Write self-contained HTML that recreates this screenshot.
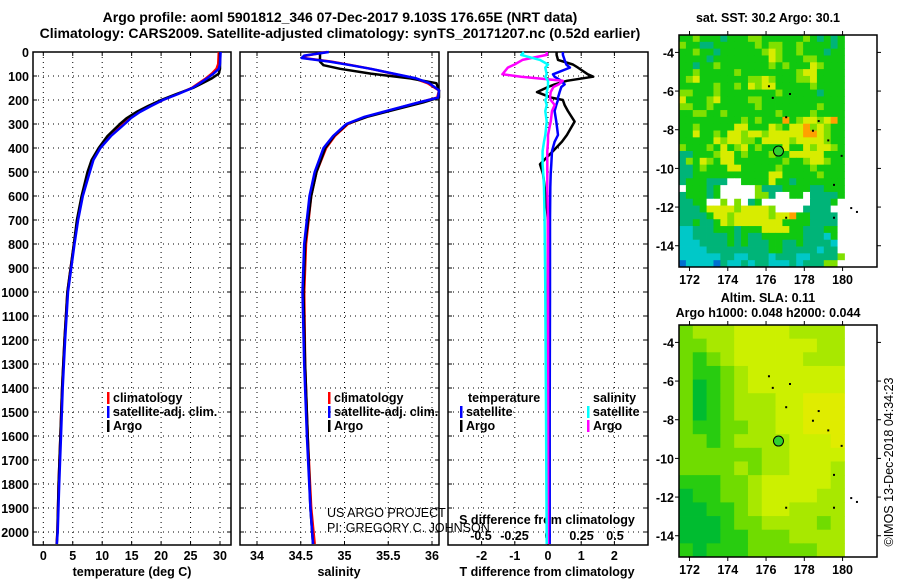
<!DOCTYPE html>
<html><head><meta charset="utf-8">
<style>
html,body{margin:0;padding:0;background:#fff;}
svg{display:block;font-family:"Liberation Sans",Arial,sans-serif;}
.b{font-weight:bold;font-size:12.5px;}
.t{font-weight:bold;font-size:14px;}
</style></head>
<body>
<svg id="fig" width="900" height="580" viewBox="0 0 900 580" xmlns="http://www.w3.org/2000/svg">
<text class="t" x="340" y="22" text-anchor="middle">Argo profile: aoml 5901812_346 07-Dec-2017 9.103S 176.65E (NRT data)</text>
<text class="t" x="340" y="38" text-anchor="middle">Climatology: CARS2009. Satellite-adjusted climatology: synTS_20171207.nc (0.52d earlier)</text>
<g id="p1"></g>
<g id="p2"></g>
<g id="p3"></g>
<g id="m1"></g>
<g id="m2"></g>
<text class="b" x="768" y="22" text-anchor="middle">sat. SST: 30.2 Argo: 30.1</text>
<text class="b" x="768" y="302" text-anchor="middle">Altim. SLA: 0.11</text>
<text class="b" x="768" y="317" text-anchor="middle">Argo h1000: 0.048 h2000: 0.044</text>
<text x="893" y="462" font-size="12.5" transform="rotate(-90 893 462)" text-anchor="middle">©IMOS 13-Dec-2018 04:34:23</text>
</svg>
<script>
// ---- data ----
const depthTicks=[0,100,200,300,400,500,600,700,800,900,1000,1100,1200,1300,1400,1500,1600,1700,1800,1900,2000];
const tTicks=[0,5,10,15,20,25,30];
const sTicks=[34,34.5,35,35.5,36];
const sTickLabels=["34","34.5","35","35.5","36"];
const dTTicks=[-2,-1,0,1,2];
const dSTicks=[-0.5,-0.25,0,0.25,0.5];
const dSTickLabels=["-0.5","-0.25","0","0.25","0.5"];

const tDepth=[0,50,70,90,110,130,150,175,200,225,250,275,300,350,400,450,500,600,700,800,1000,1200,1400,1600,1800,2000,2050];
const tClim=[29.8,29.7,29.4,28.6,27.6,26.4,25.2,22.8,20.3,18.2,16.2,14.7,13.6,11.3,9.6,8.4,7.8,6.6,5.8,5.2,4.1,3.6,3.2,2.9,2.6,2.4,2.25];
const tSat=[30.1,30.0,29.8,28.9,27.8,26.6,25.3,22.9,20.3,18.3,16.4,14.9,13.8,11.5,9.7,8.5,7.9,6.7,5.9,5.3,4.2,3.7,3.3,3.0,2.7,2.45,2.3];
const tArgo=[30.0,30.0,30.0,29.8,28.6,27.0,25.4,22.6,20.0,17.8,15.8,14.2,13.0,10.9,9.4,8.2,7.5,6.5,5.7,5.2,4.1,3.6,3.2,2.9,2.6,2.4,2.3];

const sDepth=[0,15,25,40,55,70,90,110,130,160,190,210,240,270,300,350,400,500,600,800,1000,1300,1600,1900,2050];
const sClim=[34.80,34.56,34.53,34.85,35.08,35.30,35.55,35.80,35.95,36.10,36.06,35.85,35.55,35.25,35.04,34.89,34.79,34.68,34.62,34.56,34.54,34.55,34.58,34.62,34.66];
const sSat=[34.82,34.54,34.51,34.83,35.07,35.30,35.56,35.82,35.97,36.12,36.07,35.85,35.54,35.23,35.02,34.87,34.76,34.66,34.60,34.54,34.52,34.54,34.57,34.61,34.64];
const sArgo=[34.72,34.72,34.72,34.72,34.76,34.95,35.30,35.75,36.05,36.20,36.15,35.90,35.58,35.26,35.03,34.88,34.78,34.68,34.62,34.55,34.53,34.55,34.58,34.61,34.64];

const dDepth=[0,12,33,52,65,93,103,120,135,146,167,190,200,221,246,290,346,374,413,468,508,564,700,1000,1500,2050];
const dTSat=[0.45,0.45,0.5,0.55,0.66,0.15,0.2,0.4,0.5,0.4,0.35,0.3,0.3,0.25,0.2,0.25,0.3,0.2,0.12,0.1,0.08,0.07,0.06,0.06,0.05,0.05];
const dTArgo=[0.26,0.26,0.3,0.75,0.9,1.2,1.36,0.57,0.2,0.0,-0.33,0.1,0.45,0.5,0.6,0.8,0.57,0.42,0.15,-0.24,-0.15,-0.1,0.0,0.0,0.0,0.0];
const dSArgo=[-0.01,-0.01,-0.19,-0.25,-0.3,-0.34,-0.2,0.11,0.08,0.04,0.02,0.015,0.02,0.05,0.03,0.02,0.0,0.0,-0.005,-0.005,-0.005,-0.005,0.0,0.0,0.0,0.0];
const dSSat=[-0.18,-0.2,-0.06,0.0,-0.02,-0.01,-0.02,0.0,0.0,0.0,-0.01,-0.01,-0.02,-0.01,-0.02,-0.01,-0.02,-0.03,-0.04,-0.04,-0.035,-0.03,-0.025,-0.02,-0.015,-0.01];

const lonTicks=[172,174,176,178,180];
const latTicks=[-4,-6,-8,-10,-12,-14];
const latTickLabels=["-4","-6","-8","-10","-12","-14"];
const argoLon=176.65, argoLat=-9.103;
const sstColors={c:"#00c8c8",b:"#0070d0",t:"#00b478",g:"#10c810",l:"#80e000",y:"#d8ec00",o:"#ffa000",w:"#ffffff"};
const sstRows=[
"gglgggtgggllgggggglgtgtg","lggttgggggglgllgglggggtg","gglggtgggggglylgglgggtgg","ggggtggggggggylgggllgggg",
"ggtgglggggggglglgggylggg","gglggggglgggggggglyygggg","glygggggggllylgggllygggg","ggggglgglgylyyggggglgggg",
"llggglgggggggglgggggtggg","yggglyggggllgggggggggggg","llgglgggggglgggggggglggg","ggllgglggggggglgggglgggg",
"ggggggggglglgggoglyylyog","gglgggggyygggylgyyolylgg","ggygglgyylyylyyyyyooylgg","gggggylyyllgyyyylyyyylgg",
"lggglgyglyglgggyggylyylg","ttggglyyglggglggyyyyyggg","tlgylgyyggggggglgglyylgg","ttglgggyyggggglgggglgggg",
"ttgggggggggggyyggggglggg","tgggtttwwggggyggtggggggg","wgggtgwwwwwltttggggttggg","tgggtgwwwwwlltwwggwttttg",
"ttggwwlwlwtgwwwwwwwtttgw","tttgyyyylyyyylwwwwttttww","ttttgyylyyyyylyyoggttttw","ttgttgylyyyyyyyggggttttw",
"cctttgggtgggyyyyggtttggw","cctttttgtgttggggggtttcgw","cccttttgtgtttggttgttttcw","cccctttttttttggtttttcttw",
"ccccccttcctttctttccttttl","bccccbtcctcttccctctttllw"];
const slaColors=["#00bc30","#28cc10","#70dc00","#a8e800","#ccf000","#e0ec00"];
const slaRows=[
"233344443333","223344444433","212344444333","211234444444","201234444444","201233344555",
"201233344555","211223344555","221233334445","222222334444","222232334443","111223444443",
"011223444433","001123443333","000122333323","000112223333","101112222233"];

// ---- helpers ----
const NS="http://www.w3.org/2000/svg";
function mk(parent,tag,attrs,txt){const e=document.createElementNS(NS,tag);for(const k in attrs)e.setAttribute(k,attrs[k]);if(txt!==undefined)e.textContent=txt;parent.appendChild(e);return e;}
const Y=d=>52+d*0.24;
const PT=v=>43.3+v*5.89;
const PS=v=>344.5+(v-35)*87.5;
const PDT=v=>548+v*33.2;
const PDS=v=>548+v*134;
const TOP=52,BOT=545;

function frame(g,x0,x1,xs,xfun){
  depthTicks.forEach(d=>{const l=mk(g,'line',{x1:x0,x2:x1,y1:Y(d),y2:Y(d),stroke:'#000','stroke-width':1,'stroke-dasharray':'1,4'});
    
    mk(g,'line',{x1:x0,x2:x0+4,y1:Y(d),y2:Y(d),stroke:'#000'});mk(g,'line',{x1:x1-4,x2:x1,y1:Y(d),y2:Y(d),stroke:'#000'});});
  xs.forEach(v=>{const x=xfun(v);const l=mk(g,'line',{x1:x,x2:x,y1:TOP,y2:BOT,stroke:'#000','stroke-width':1,'stroke-dasharray':'1,4'});
    
    mk(g,'line',{x1:x,x2:x,y1:BOT-4,y2:BOT,stroke:'#000'});mk(g,'line',{x1:x,x2:x,y1:TOP,y2:TOP+4,stroke:'#000'});});
  const r=mk(g,'rect',{x:x0,y:TOP,width:x1-x0,height:BOT-TOP,fill:'none',stroke:'#000','stroke-width':1.5});
  
}
function line(g,xs,ds,xfun,color,name,x0,x1){
  const pts=xs.map((v,i)=>Math.max(x0,Math.min(x1,xfun(v))).toFixed(1)+','+Y(ds[i]).toFixed(1)).join(' ');
  const p=mk(g,'polyline',{points:pts,fill:'none',stroke:color,'stroke-width':2.5,'stroke-linejoin':'round'});
  
}
function legendItem(g,x,y,color,txt,name){
  mk(g,'rect',{x:x,y:y-10,width:2.5,height:12,fill:color});
  const t=mk(g,'text',{x:x+6,y:y,class:'b'},txt);
  
}
function xlabels(g,vals,labs,xfun,y){
  vals.forEach((v,i)=>{const t=mk(g,'text',{x:xfun(v),y:y,class:'b','text-anchor':'middle'},labs[i]);
    });
}

// ---- panel 1 ----
const p1=document.getElementById('p1');
frame(p1,33,231,tTicks,PT);
depthTicks.forEach(d=>{const t=mk(p1,'text',{x:29,y:Y(d)+5,class:'b','text-anchor':'end'},String(d));
  });
xlabels(p1,tTicks,tTicks.map(String),PT,560);
mk(p1,'text',{x:132,y:576,class:'b','text-anchor':'middle',},'temperature (deg C)');
line(p1,tClim,tDepth,PT,'#ff0000','temp-climatology-line',33,231);
line(p1,tArgo,tDepth,PT,'#000000','temp-argo-line',33,231);
line(p1,tSat,tDepth,PT,'#0000ff','temp-satellite-line',33,231);
legendItem(p1,107,402,'#ff0000','climatology','legend-climatology');
legendItem(p1,107,416,'#0000ff','satellite-adj. clim.','legend-satellite');
legendItem(p1,107,430,'#000000','Argo','legend-argo');

// ---- panel 2 ----
const p2=document.getElementById('p2');
frame(p2,240,439,sTicks,PS);
xlabels(p2,sTicks,sTickLabels,PS,560);
mk(p2,'text',{x:339,y:576,class:'b','text-anchor':'middle',},'salinity');
line(p2,sClim,sDepth,PS,'#ff0000','sal-climatology-line',240,439);
line(p2,sArgo,sDepth,PS,'#000000','sal-argo-line',240,439);
line(p2,sSat,sDepth,PS,'#0000ff','sal-satellite-line',240,439);
legendItem(p2,328,402,'#ff0000','climatology','legend-climatology');
legendItem(p2,328,416,'#0000ff','satellite-adj. clim.','legend-satellite');
legendItem(p2,328,430,'#000000','Argo','legend-argo');
mk(p2,'text',{x:327,y:517,'font-size':'12.5',},'US ARGO PROJECT');
mk(p2,'text',{x:327,y:532,'font-size':'12.5',},'PI: GREGORY C. JOHNSON');

// ---- panel 3 ----
const p3=document.getElementById('p3');
frame(p3,448,648,dTTicks,PDT);
xlabels(p3,dTTicks,dTTicks.map(String),PDT,560);
xlabels(p3,dSTicks,dSTickLabels,PDS,540);
mk(p3,'text',{x:547,y:524,class:'b','text-anchor':'middle',},'S difference from climatology');
mk(p3,'text',{x:547,y:576,class:'b','text-anchor':'middle',},'T difference from climatology');
line(p3,dTArgo,dDepth,PDT,'#000000','t-diff-argo-line',448,648);
line(p3,dTSat,dDepth,PDT,'#0000ff','t-diff-satellite-line',448,648);
line(p3,dSArgo,dDepth,PDS,'#ff00ff','s-diff-argo-line',448,648);
line(p3,dSSat,dDepth,PDS,'#00ffff','s-diff-satellite-line',448,648);
mk(p3,'text',{x:468,y:402,class:'b',},'temperature');
legendItem(p3,460,416,'#0000ff','satellite','legend-t-satellite');
legendItem(p3,460,430,'#000000','Argo','legend-t-argo');
mk(p3,'text',{x:593,y:402,class:'b',},'salinity');
legendItem(p3,587,416,'#00ffff','satellite','legend-s-satellite');
legendItem(p3,587,430,'#ff00ff','Argo','legend-s-argo');

// ---- maps ----
function map(g,top,rows,colorOf,name){
  const L0=171.45,L1=181.8,A0=-3.1,A1=-15.1,x0=679,x1=877,bot=top+232;
  const MX=lon=>x0+(lon-L0)*(x1-x0)/(L1-L0);
  const MY=lat=>top+(lat-A0)*(bot-top)/(A1-A0);
  const dataL1=180.1;
  const nr=rows.length,nc=rows[0].length;
  const dl=(dataL1-L0)/nc, da=(A1-A0)/nr;
  rows.forEach((row,r)=>{for(let c=0;c<nc;c++){
    const xa=MX(L0+c*dl),xb=MX(L0+(c+1)*dl),ya=MY(A0+r*da),yb=MY(A0+(r+1)*da);
    const cell=mk(g,'rect',{x:xa.toFixed(2),y:ya.toFixed(2),width:(xb-xa+0.4).toFixed(2),height:(yb-ya+0.4).toFixed(2),fill:colorOf(row[c])});
    
    
  }});
  const f=mk(g,'rect',{x:x0,y:top,width:x1-x0,height:bot-top,fill:'none',stroke:'#000','stroke-width':1.5});
  
  lonTicks.forEach(v=>{const x=MX(v);mk(g,'line',{x1:x,x2:x,y1:top-4,y2:top,stroke:'#000'});mk(g,'line',{x1:x,x2:x,y1:bot,y2:bot+4,stroke:'#000'});
    const t=mk(g,'text',{x:x,y:bot+17,class:'b','text-anchor':'middle'},String(v));});
  latTicks.forEach((v,i)=>{const y=MY(v);mk(g,'line',{x1:x0-4,x2:x0,y1:y,y2:y,stroke:'#000'});mk(g,'line',{x1:x1,x2:x1+4,y1:y,y2:y,stroke:'#000'});
    const t=mk(g,'text',{x:674,y:y+5,class:'b','text-anchor':'end'},latTickLabels[i]);});
  const m=mk(g,'circle',{cx:MX(argoLon),cy:MY(argoLat),r:5,fill:'#30d030',stroke:'#000','stroke-width':1});
  
  [[176.1,-5.7],[176.3,-6.3],[177.2,-6.1],[177.0,-7.3],[178.4,-8.0],[179.2,-8.5],[179.9,-9.3],[179.5,-10.8],[179.5,-12.5],[177.0,-12.5],[180.4,-12.0],[180.7,-12.2],[178.7,-7.5]].forEach(p=>{
    mk(g,'rect',{x:MX(p[0]),y:MY(p[1]),width:2,height:2,fill:'#000'});});
}
map(document.getElementById('m1'),35,sstRows,k=>sstColors[k],'sst');
map(document.getElementById('m2'),325,slaRows,k=>slaColors[+k],'sla');
</script>
</body></html>
